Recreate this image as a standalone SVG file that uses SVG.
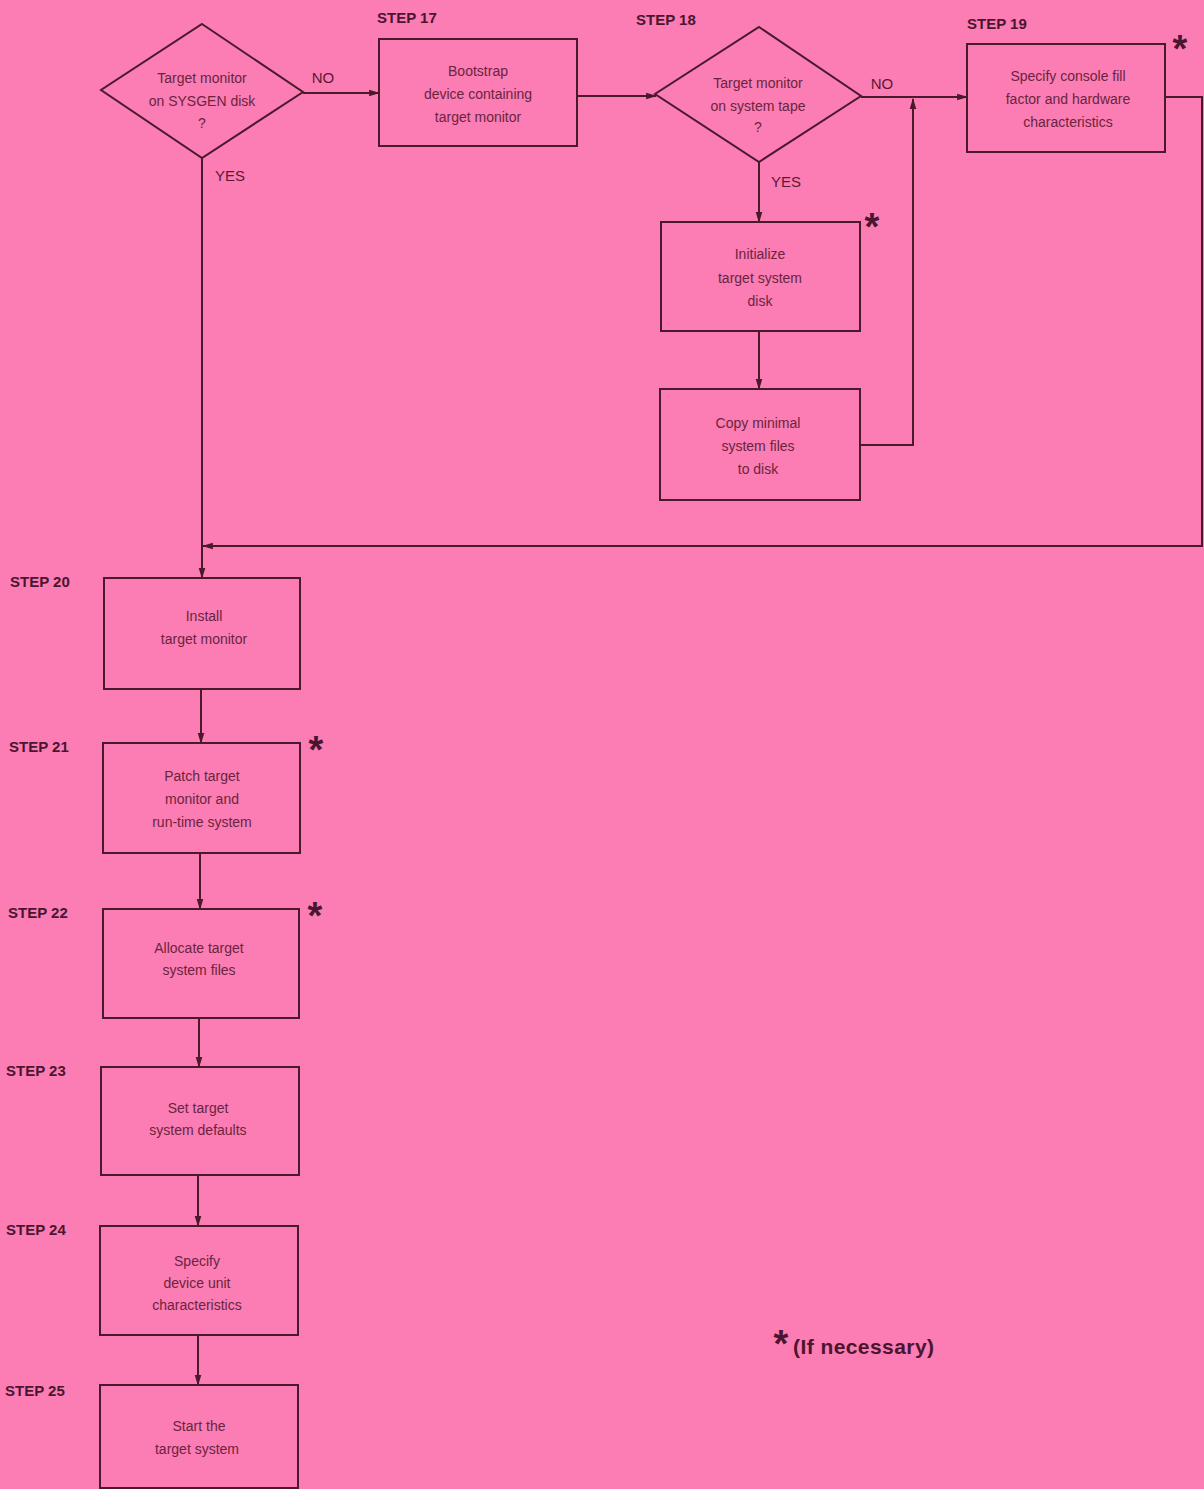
<svg xmlns="http://www.w3.org/2000/svg" width="1204" height="1489" viewBox="0 0 1204 1489">
<defs>
<marker id="ah" viewBox="0 0 10 10" refX="9" refY="5" markerWidth="13" markerHeight="11" markerUnits="userSpaceOnUse" orient="auto"><path d="M0,2 L10,5 L0,8 z" fill="#4a1a2c"/></marker>
<style>
.bx{fill:none;stroke:#4a1a2c;stroke-width:2}
.ln{fill:none;stroke:#4a1a2c;stroke-width:2}
.t{font-family:"Liberation Sans",Arial,sans-serif;font-size:14px;fill:#6a2440;text-anchor:middle}
.s{font-family:"Liberation Sans",Arial,sans-serif;font-size:15px;font-weight:bold;fill:#4a1530}
.l{font-family:"Liberation Sans",Arial,sans-serif;font-size:15px;fill:#5a1a34}
.a{font-family:"Liberation Sans",Arial,sans-serif;font-size:38px;font-weight:bold;fill:#4a1530}
</style>
</defs>
<rect width="1204" height="1489" fill="#fb7db3"/>
<g id="connectors">
<line class="ln" x1="303" y1="93" x2="379" y2="93" marker-end="url(#ah)"/>
<line class="ln" x1="577" y1="96" x2="656" y2="96" marker-end="url(#ah)"/>
<line class="ln" x1="861" y1="97" x2="967" y2="97" marker-end="url(#ah)"/>
<polyline class="ln" points="860,445 913,445 913,99" marker-end="url(#ah)"/>
<line class="ln" x1="759" y1="162" x2="759" y2="222" marker-end="url(#ah)"/>
<line class="ln" x1="759" y1="331" x2="759" y2="389" marker-end="url(#ah)"/>
<polyline class="ln" points="1165,97 1202,97 1202,546 203,546" marker-end="url(#ah)"/>
<line class="ln" x1="202" y1="158" x2="202" y2="578" marker-end="url(#ah)"/>
<line class="ln" x1="201" y1="689" x2="201" y2="743" marker-end="url(#ah)"/>
<line class="ln" x1="200" y1="853" x2="200" y2="909" marker-end="url(#ah)"/>
<line class="ln" x1="199" y1="1018" x2="199" y2="1067" marker-end="url(#ah)"/>
<line class="ln" x1="198" y1="1175" x2="198" y2="1226" marker-end="url(#ah)"/>
<line class="ln" x1="198" y1="1335" x2="198" y2="1385" marker-end="url(#ah)"/>
<text class="l" x="323" y="83" text-anchor="middle">NO</text>
<text class="l" x="230" y="181" text-anchor="middle">YES</text>
<text class="l" x="882" y="89" text-anchor="middle">NO</text>
<text class="l" x="786" y="187" text-anchor="middle">YES</text>
</g>
<g id="d1">
<polygon class="bx" points="202,24 303,92 202,158 101,90"/>
<text class="t" x="202" y="83">Target monitor</text>
<text class="t" x="202" y="106">on SYSGEN disk</text>
<text class="t" x="202" y="128">?</text>
</g>
<g id="s17">
<text class="s" x="377" y="23">STEP 17</text>
<rect class="bx" x="379" y="39" width="198" height="107"/>
<text class="t" x="478" y="76">Bootstrap</text>
<text class="t" x="478" y="99">device containing</text>
<text class="t" x="478" y="122">target monitor</text>
</g>
<g id="d2">
<text class="s" x="636" y="25">STEP 18</text>
<polygon class="bx" points="759,27 861,96 759,162 655,94"/>
<text class="t" x="758" y="88">Target monitor</text>
<text class="t" x="758" y="111">on system tape</text>
<text class="t" x="758" y="132">?</text>
</g>
<g id="s19">
<text class="s" x="967" y="29">STEP 19</text>
<rect class="bx" x="967" y="44" width="198" height="108"/>
<text class="t" x="1068" y="81">Specify console fill</text>
<text class="t" x="1068" y="104">factor and hardware</text>
<text class="t" x="1068" y="127">characteristics</text>
<text class="a" x="1180" y="62" text-anchor="middle">*</text>
</g>
<g id="init">
<rect class="bx" x="661" y="222" width="199" height="109"/>
<text class="t" x="760" y="259">Initialize</text>
<text class="t" x="760" y="283">target system</text>
<text class="t" x="760" y="306">disk</text>
<text class="a" x="872" y="240" text-anchor="middle">*</text>
</g>
<g id="copy">
<rect class="bx" x="660" y="389" width="200" height="111"/>
<text class="t" x="758" y="428">Copy minimal</text>
<text class="t" x="758" y="451">system files</text>
<text class="t" x="758" y="474">to disk</text>
</g>
<g id="s20">
<text class="s" x="10" y="587">STEP 20</text>
<rect class="bx" x="104" y="578" width="196" height="111"/>
<text class="t" x="204" y="621">Install</text>
<text class="t" x="204" y="644">target monitor</text>
</g>
<g id="s21">
<text class="s" x="9" y="752">STEP 21</text>
<rect class="bx" x="103" y="743" width="197" height="110"/>
<text class="t" x="202" y="781">Patch target</text>
<text class="t" x="202" y="804">monitor and</text>
<text class="t" x="202" y="827">run-time system</text>
<text class="a" x="316" y="763" text-anchor="middle">*</text>
</g>
<g id="s22">
<text class="s" x="8" y="918">STEP 22</text>
<rect class="bx" x="103" y="909" width="196" height="109"/>
<text class="t" x="199" y="953">Allocate target</text>
<text class="t" x="199" y="975">system files</text>
<text class="a" x="315" y="929" text-anchor="middle">*</text>
</g>
<g id="s23">
<text class="s" x="6" y="1076">STEP 23</text>
<rect class="bx" x="101" y="1067" width="198" height="108"/>
<text class="t" x="198" y="1113">Set target</text>
<text class="t" x="198" y="1135">system defaults</text>
</g>
<g id="s24">
<text class="s" x="6" y="1235">STEP 24</text>
<rect class="bx" x="100" y="1226" width="198" height="109"/>
<text class="t" x="197" y="1266">Specify</text>
<text class="t" x="197" y="1288">device unit</text>
<text class="t" x="197" y="1310">characteristics</text>
</g>
<g id="s25">
<text class="s" x="5" y="1396">STEP 25</text>
<rect class="bx" x="100" y="1385" width="198" height="103"/>
<text class="t" x="199" y="1431">Start the</text>
<text class="t" x="197" y="1454">target system</text>
</g>
<g id="note">
<text class="a" x="781" y="1357" text-anchor="middle">*</text>
<text x="793" y="1354" textLength="141" style="font-family:'Liberation Sans',Arial,sans-serif;font-size:21px;font-weight:bold;fill:#4a1530">(If necessary)</text>
</g>
</svg>
